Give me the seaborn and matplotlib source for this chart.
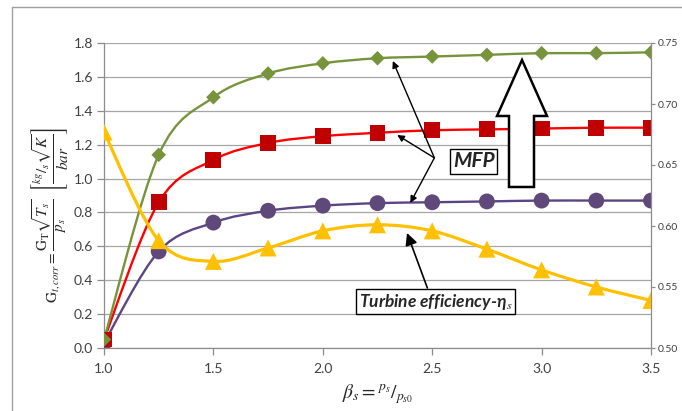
import numpy as np
import matplotlib
matplotlib.use('Agg')
import matplotlib.pyplot as plt
import seaborn as sns
from matplotlib.path import Path
from matplotlib.patches import PathPatch, Polygon
from matplotlib.lines import Line2D

# pressure ratio beta_s
beta = [1.0, 1.25, 1.5, 1.75, 2.0, 2.25, 2.5, 2.75, 3.0, 3.25, 3.5]
# corrected mass flow (left axis), three cases
mfp_high = [0.05, 1.14, 1.48, 1.62, 1.68, 1.71, 1.72, 1.73, 1.74, 1.74, 1.745]
mfp_mid = [0.05, 0.86, 1.11, 1.21, 1.25, 1.27, 1.285, 1.29, 1.295, 1.30, 1.30]
mfp_low = [0.03, 0.57, 0.74, 0.81, 0.84, 0.855, 0.86, 0.865, 0.87, 0.87, 0.87]
# turbine efficiency (right axis)
efficiency = [0.677, 0.588, 0.571, 0.582, 0.596, 0.601, 0.596, 0.581, 0.564, 0.550, 0.539]

left_ticks = [0.0, 0.2, 0.4, 0.6, 0.8, 1.0, 1.2, 1.4, 1.6, 1.8]
right_ticks = [0.50, 0.55, 0.60, 0.65, 0.70, 0.75]
x_ticks = [1.0, 1.5, 2.0, 2.5, 3.0, 3.5]


def smooth_path(x, y):
    # Excel-like smoothed line: cubic Bezier segments through the points
    pts = np.column_stack([x, y])
    n = len(pts)
    verts = [pts[0]]
    codes = [Path.MOVETO]
    for i in range(n - 1):
        p0 = pts[max(i - 1, 0)]
        p1 = pts[i]
        p2 = pts[i + 1]
        p3 = pts[min(i + 2, n - 1)]
        verts += [p1 + (p2 - p0) / 6, p2 - (p3 - p1) / 6, p2]
        codes += [Path.CURVE4] * 3
    return Path(verts, codes)


sns.set_theme(style='white')
plt.rcParams['font.family'] = ['Lato', 'DejaVu Sans']
plt.rcParams['mathtext.fontset'] = 'stix'

fig = plt.figure(figsize=(6.82, 4.11), dpi=100)
ax = fig.add_axes([104 / 682, 1 - 348 / 411, 547 / 682, 305 / 411])
ax2 = ax.twinx()

spine_col = '#8C8C8C'
tick_col = '#404040'

# smoothed lines
series = [
    (mfp_low, '#5B4585', '#5F497A', 'o', 130),
    (mfp_mid, '#FF0000', '#C00000', 's', 130),
    (mfp_high, '#77933C', '#77933C', 'D', 55),
]
for vals, lcol, mcol, mk, size in series:
    ax.add_patch(PathPatch(smooth_path(beta, vals), fill=False, edgecolor=lcol, lw=1.7, zorder=2))
for vals, lcol, mcol, mk, size in series:
    sns.scatterplot(x=beta, y=vals, marker=mk, s=size, color=mcol, edgecolor='none', ax=ax, zorder=3)

ax2.add_patch(PathPatch(smooth_path(beta, efficiency), fill=False, edgecolor='#FFC000', lw=2.3, zorder=2))
sns.scatterplot(x=beta, y=efficiency, marker='^', s=150, color='#FFC000', edgecolor='none', ax=ax2, zorder=3)

ax.set_xlim(1.0, 3.5)
ax.set_ylim(0, 1.8)
ax2.set_ylim(0.5, 0.75)
ax.set_xticks(x_ticks)
ax.set_xticklabels([f'{v:.1f}' for v in x_ticks])
ax.set_yticks(left_ticks)
ax.set_yticklabels([f'{v:.1f}' for v in left_ticks])
ax2.set_yticks(right_ticks)
ax2.set_yticklabels([f'{v:.2f}' for v in right_ticks])

ax.yaxis.grid(True, color='#A6A6A6', lw=0.9)
ax.set_axisbelow(True)
ax2.grid(False)
for s in ['top', 'right']:
    ax.spines[s].set_visible(False)
for s in ['top', 'left', 'bottom']:
    ax2.spines[s].set_visible(False)
for sp in [ax.spines['left'], ax.spines['bottom'], ax2.spines['right']]:
    sp.set_color(spine_col)
    sp.set_linewidth(0.9)
ax.tick_params(axis='both', which='major', direction='out', length=5, width=0.9,
               color=spine_col, labelsize=10, labelcolor=tick_col, left=True, bottom=True, pad=3)
ax.tick_params(axis='x', pad=6)
ax2.tick_params(axis='y', direction='out', length=3, width=0.9, color=spine_col,
                labelsize=7.5, labelcolor=tick_col, right=True, pad=1.5)
ax.set_xlabel('')
ax.set_ylabel('')
ax2.set_ylabel('')

# axis titles
fig.text(50 / 682, 1 - 215 / 411,
         r'$\mathrm{G}_{t,corr} = \dfrac{\mathrm{G}_{\mathrm{T}}\sqrt{T_s}}{p_s}\ \ \left[\dfrac{{}^{kg}/_{s}\sqrt{K}}{bar}\right]$',
         rotation=90, ha='center', va='center', fontsize=11, color='#262626')
fig.text(378 / 682, 1 - 394 / 411, r'$\beta_s = {}^{p_s}/_{p_{s0}}$',
         ha='center', va='center', fontsize=14, color='#262626')

# MFP annotation
ax.text(2.69, 1.101, 'MFP', fontsize=15, fontweight='bold', style='italic', ha='center', va='center',
        bbox=dict(boxstyle='square,pad=0.12', fc='white', ec='black', lw=1), zorder=6)
arrow_start = (2.51, 1.122)
for end in [(2.32, 1.694), (2.34, 1.257), (2.40, 0.856)]:
    ax.annotate('', xy=end, xytext=arrow_start,
                arrowprops=dict(arrowstyle='-|>', color='black', lw=1, mutation_scale=10,
                                shrinkA=0, shrinkB=0), zorder=6)

# big hollow arrow
big_arrow = [(0.7642, 0.9443), (0.8099, 0.7607), (0.7861, 0.7607), (0.7861, 0.5279),
             (0.7404, 0.5279), (0.7404, 0.7607), (0.7185, 0.7607)]
ax.add_patch(Polygon(big_arrow, closed=True, fc='white', ec='black', lw=1.8,
                     transform=ax.transAxes, zorder=5))

# turbine efficiency annotation
ax.text(2.515, 0.274, r'Turbine efficiency-η$_s$', fontsize=12.5, fontweight='bold', style='italic',
        ha='center', va='center', bbox=dict(boxstyle='square,pad=0.15', fc='white', ec='black', lw=1), zorder=6)
ax.annotate('', xy=(2.385, 0.679), xytext=(2.478, 0.354),
            arrowprops=dict(arrowstyle='-|>', color='black', lw=1.2, mutation_scale=18,
                            shrinkA=0, shrinkB=0), zorder=6)

# chart frame
fig.add_artist(Line2D([12 / 682, 12 / 682], [0, 1 - 7 / 411], color='#A0A0A0', lw=1))
fig.add_artist(Line2D([12 / 682, 1], [1 - 7 / 411, 1 - 7 / 411], color='#A0A0A0', lw=1))

fig.savefig('out.png', dpi=100)
